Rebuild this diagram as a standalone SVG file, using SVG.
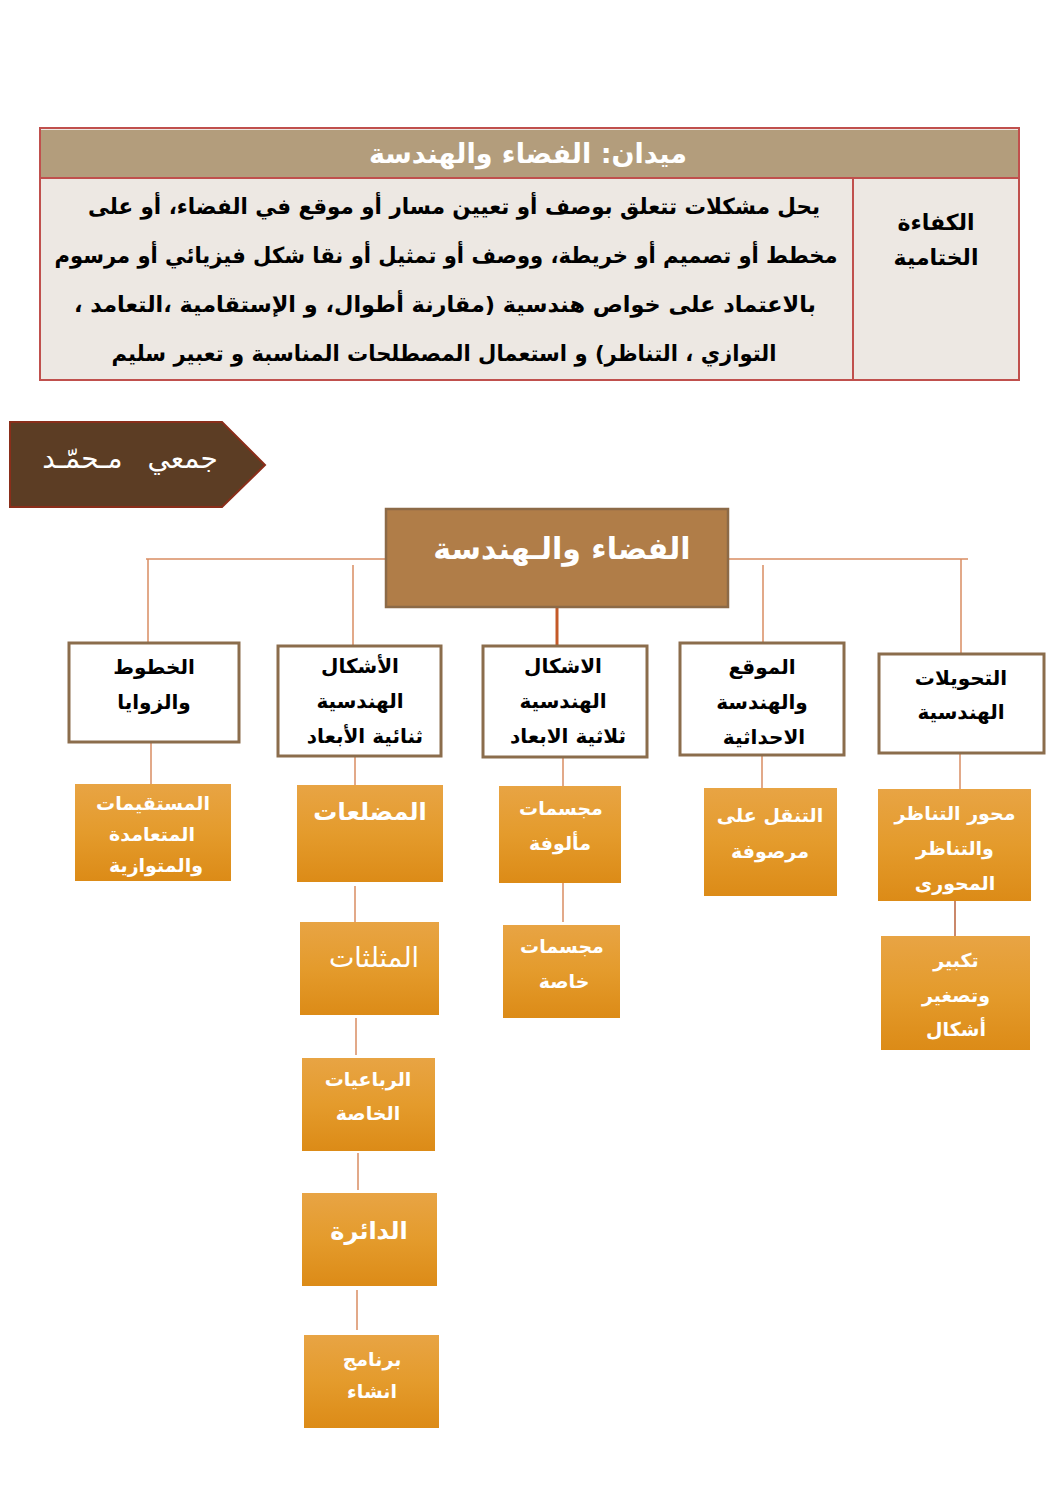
<svg xmlns="http://www.w3.org/2000/svg" width="1058" height="1497" viewBox="0 0 1058 1497">
<style>
text{font-family:"DejaVu Sans","Liberation Sans",sans-serif;text-anchor:middle;direction:rtl;unicode-bidi:embed}
.hdr{fill:#fff;font-weight:bold;font-size:27px}
.body{fill:#000;font-weight:bold;font-size:22px}
.l1{fill:#fff;stroke:#8b6d4c;stroke-width:3}
.l1t{fill:#000;font-weight:bold;font-size:20px}
.or{fill:url(#og)}
.ot{fill:#fff;font-weight:bold;font-size:19px}
.obig{fill:#fff;font-weight:bold;font-size:24px}
.c{stroke:#d98d62;stroke-width:1.5;fill:none}
.cd{stroke:#c45a28;stroke-width:3;fill:none}
</style>
<defs>
<linearGradient id="og" x1="0" y1="0" x2="0" y2="1">
<stop offset="0" stop-color="#e8a444"/>
<stop offset="0.5" stop-color="#e49b2c"/>
<stop offset="1" stop-color="#dc8b17"/>
</linearGradient>
</defs>
<rect width="1058" height="1497" fill="#fff"/>
<g id="table">
<rect x="40" y="128" width="979" height="252" fill="#ede8e3" stroke="#c0504d" stroke-width="2"/>
<rect x="41" y="130" width="977" height="47" fill="#b39d7c"/>
<line x1="40" y1="178" x2="1019" y2="178" stroke="#c0504d" stroke-width="2"/>
<line x1="853" y1="178" x2="853" y2="380" stroke="#c0504d" stroke-width="2"/>
<text class="hdr" x="528" y="163">ميدان: الفضاء والهندسة</text>
<text class="body" x="454" y="214" textLength="732" lengthAdjust="spacingAndGlyphs">يحل مشكلات تتعلق بوصف أو تعيين مسار أو موقع في الفضاء، أو على</text>
<text class="body" x="446" y="263" textLength="783" lengthAdjust="spacingAndGlyphs">مخطط أو تصميم أو خريطة، ووصف أو تمثيل أو نقا شكل فيزيائي أو مرسوم</text>
<text class="body" x="445" y="312" textLength="742" lengthAdjust="spacingAndGlyphs">بالاعتماد على خواص هندسية (مقارنة أطوال، و الإستقامية ،التعامد ،</text>
<text class="body" x="444" y="361" textLength="665" lengthAdjust="spacingAndGlyphs">التوازي ، التناظر) و استعمال المصطلحات المناسبة و تعبير سليم</text>
<text class="body" x="936" y="230">الكفاءة</text>
<text class="body" x="936" y="265">الختامية</text>
</g>
<g id="author">
<path d="M10 422 H222 L265 465 L222 507 H10 Z" fill="#5c3d24" stroke="#8a2e1a" stroke-width="2"/>
<text x="130" y="468" fill="#fff" font-size="28px" word-spacing="16px">جمعي مـحمّـد</text>
</g>
<g id="connectors">
<line class="c" x1="146" y1="559" x2="386" y2="559"/>
<line class="c" x1="728" y1="559" x2="968" y2="559"/>
<line class="c" x1="148" y1="559" x2="148" y2="643"/>
<line class="c" x1="353" y1="565" x2="353" y2="646"/>
<line class="cd" x1="557" y1="607" x2="557" y2="646"/>
<line class="c" x1="763" y1="565" x2="763" y2="643"/>
<line class="c" x1="961" y1="559" x2="961" y2="654"/>
<line class="c" x1="151" y1="742" x2="151" y2="784"/>
<line class="c" x1="355" y1="756" x2="355" y2="785"/>
<line class="c" x1="563" y1="757" x2="563" y2="786"/>
<line class="c" x1="762" y1="755" x2="762" y2="788"/>
<line class="c" x1="960" y1="753" x2="960" y2="789"/>
<line class="c" x1="355" y1="886" x2="355" y2="922"/>
<line class="c" x1="563" y1="883" x2="563" y2="922"/>
<line class="c" x1="356" y1="1018" x2="356" y2="1055"/>
<line class="c" x1="358" y1="1153" x2="358" y2="1190"/>
<line class="c" x1="357" y1="1290" x2="357" y2="1330"/>
<line x1="955" y1="900" x2="955" y2="936" stroke="#b8613a" stroke-width="1.5"/>
</g>
<g id="root">
<rect x="386" y="509" width="342" height="98" fill="#b07d48" stroke="#8c6a47" stroke-width="2.5"/>
<text x="562" y="559" fill="#fff" font-weight="bold" font-size="30px">الفضاء والـهندسة</text>
</g>
<g id="n-lines">
<rect class="l1" x="69" y="643" width="170" height="99"/>
<text class="l1t" x="154" y="674">الخطوط</text>
<text class="l1t" x="154" y="709">والزوايا</text>
</g>
<g id="n-2d">
<rect class="l1" x="278" y="646" width="163" height="110"/>
<text class="l1t" x="360" y="673" font-size="17px">الأشكال</text>
<text class="l1t" x="360" y="708">الهندسية</text>
<text class="l1t" x="365" y="743">ثنائية الأبعاد</text>
</g>
<g id="n-3d">
<rect class="l1" x="483" y="646" width="164" height="111"/>
<text class="l1t" x="563" y="673" font-size="17px">الاشكال</text>
<text class="l1t" x="563" y="708">الهندسية</text>
<text class="l1t" x="568" y="743">ثلاثية الابعاد</text>
</g>
<g id="n-pos">
<rect class="l1" x="680" y="643" width="164" height="112"/>
<text class="l1t" x="762" y="674">الموقع</text>
<text class="l1t" x="762" y="709">والهندسة</text>
<text class="l1t" x="764" y="744">الاحداثية</text>
</g>
<g id="n-trans">
<rect class="l1" x="879" y="654" width="165" height="99"/>
<text class="l1t" x="961" y="685">التحويلات</text>
<text class="l1t" x="961" y="719">الهندسية</text>
</g>
<g id="n-perp">
<rect class="or" x="75" y="784" width="156" height="97"/>
<text class="ot" x="153" y="810" font-size="15px">المستقيمات</text>
<text class="ot" x="152" y="841" font-size="15px">المتعامدة</text>
<text class="ot" x="156" y="872" font-size="15px">والمتوازية</text>
</g>
<g id="n-poly">
<rect class="or" x="297" y="785" width="146" height="97"/>
<text class="obig" x="370" y="820">المضلعات</text>
</g>
<g id="n-solids1">
<rect class="or" x="499" y="786" width="122" height="97"/>
<text class="ot" x="561" y="815">مجسمات</text>
<text class="ot" x="560" y="850">مألوفة</text>
</g>
<g id="n-move">
<rect class="or" x="704" y="788" width="133" height="108"/>
<text class="ot" x="770" y="822" font-size="17px">التنقل على</text>
<text class="ot" x="770" y="858" font-size="17px">مرصوفة</text>
</g>
<g id="n-sym">
<rect class="or" x="878" y="789" width="153" height="112"/>
<text class="ot" x="955" y="820" font-size="18px">محور التناظر</text>
<text class="ot" x="955" y="855" font-size="18px">والتناظر</text>
<text class="ot" x="955" y="890" font-size="18px">المحورى</text>
</g>
<g id="n-tri">
<rect class="or" x="300" y="922" width="139" height="93"/>
<text x="374" y="967" fill="#fff" font-size="27px">المثلثات</text>
</g>
<g id="n-solids2">
<rect class="or" x="503" y="925" width="117" height="93"/>
<text class="ot" x="562" y="953">مجسمات</text>
<text class="ot" x="564" y="988">خاصة</text>
</g>
<g id="n-scale">
<rect class="or" x="881" y="936" width="149" height="114"/>
<text class="ot" x="956" y="967">تكبير</text>
<text class="ot" x="956" y="1002">وتصغير</text>
<text class="ot" x="956" y="1036">أشكال</text>
</g>
<g id="n-quad">
<rect class="or" x="302" y="1058" width="133" height="93"/>
<text class="ot" x="368" y="1086">الرباعيات</text>
<text class="ot" x="368" y="1120">الخاصة</text>
</g>
<g id="n-circle">
<rect class="or" x="302" y="1193" width="135" height="93"/>
<text class="obig" x="369" y="1239">الدائرة</text>
</g>
<g id="n-build">
<rect class="or" x="304" y="1335" width="135" height="93"/>
<text class="ot" x="372" y="1366">برنامج</text>
<text class="ot" x="372" y="1398">انشاء</text>
</g>
</svg>
